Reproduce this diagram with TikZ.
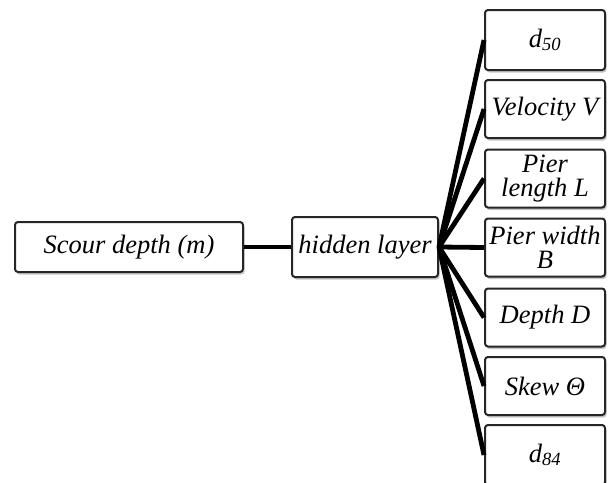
\documentclass[tikz,border=0pt]{standalone}
\usepackage{fontspec}
\setmainfont{Liberation Serif}
\usetikzlibrary{positioning,shadows}

\begin{document}
\begin{tikzpicture}[x=1pt,y=-1pt,
    box/.style={draw=black!85,line width=2pt,rounded corners=3pt,fill=white,
        drop shadow={shadow xshift=1.5pt,shadow yshift=-2.5pt,opacity=0.45},
        inner sep=0pt,align=center,font=\fontsize{26.5}{24}\selectfont\itshape},
    input/.style={box,minimum width=120pt,minimum height=58pt},
    link/.style={line width=4.8pt}]
    \useasboundingbox (0,0) rectangle (609,482);
    % output and hidden layer
    \node[box,minimum width=228pt,minimum height=50pt] (scour) at (129,247) {Scour depth (m)};
    \node[box,minimum width=146pt,minimum height=60pt] (hidden) at (365,247) {hidden layer};
    % inputs
    \node[input,minimum height=60pt] (dfifty) at (545,40) {d\textsubscript{50}};
    \node[input] (velocity) at (545,109) {Velocity V};
    \node[input] (pierlength) at (545,178.5) {Pier\\length L};
    \node[input] (pierwidth) at (545,247.5) {Pier width\\B};
    \node[input] (depth) at (545,317.5) {Depth D};
    \node[input] (skew) at (545,386) {Skew Θ};
    \node[input,minimum height=60pt] (deightyfour) at (545,455) {d\textsubscript{84}};
    % links
    \draw[link] (scour.east) -- (hidden.west);
    \draw[link] (hidden.east) -- (dfifty.west);
    \draw[link] (hidden.east) -- (velocity.west);
    \draw[link] (hidden.east) -- (pierlength.west);
    \draw[link] (hidden.east) -- (pierwidth.west);
    \draw[link] (hidden.east) -- (depth.west);
    \draw[link] (hidden.east) -- (skew.west);
    \draw[link] (hidden.east) -- (deightyfour.west);
\end{tikzpicture}
\end{document}
